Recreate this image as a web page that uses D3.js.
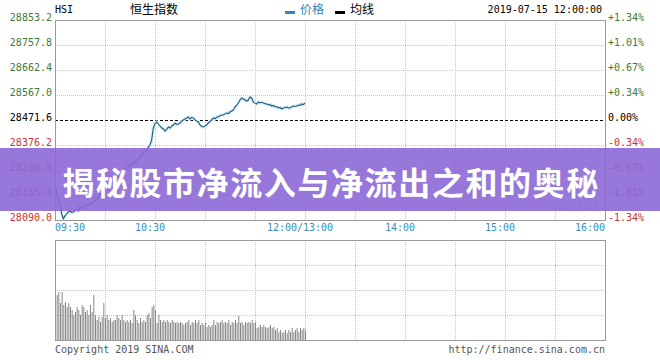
<!DOCTYPE html>
<html>
<head>
<meta charset="utf-8">
<script src="https://cdn.jsdelivr.net/npm/d3@7"></script>
<style>
  body { margin: 0; background: #fff; }
  svg { display: block; }
  text { font-family: "DejaVu Sans Mono", monospace; font-size: 10px; }
</style>
</head>
<body>
<script>
// Data
var prevClose = 28471.6;
var priceTicks = [28853.2, 28757.8, 28662.4, 28567.0, 28471.6, 28376.2, 28280.8, 28185.4, 28090.0];
var pctTicks = ['+1.34%', '+1.01%', '+0.67%', '+0.34%', '0.00%', '-0.34%', '-0.67%', '-1.01%', '-1.34%'];
var timeLabels = [
  {t: 0, label: '09:30'}, {t: 60, label: '10:30'}, {t: 150, label: '12:00/13:00'},
  {t: 210, label: '14:00'}, {t: 270, label: '15:00'}, {t: 330, label: '16:00'}
];
// one value per minute, 09:30 .. 12:00
var prices = [
  28223.6, 28196.9, 28170.0, 28147.2, 28112.9, 28095.0, 28105.5, 28112.9, 28120.5, 28124.3,
  28118.6, 28120.5, 28126.2, 28128.2, 28124.3, 28139.6, 28136.0, 28143.4, 28139.6, 28147.2,
  28145.0, 28154.9, 28150.0, 28158.7, 28162.5, 28166.0, 28178.0, 28189.2, 28192.0, 28204.0,
  28212.1, 28216.0, 28225.0, 28231.2, 28229.0, 28236.0, 28238.8, 28245.0, 28255.0, 28261.7,
  28268.0, 28275.0, 28280.8, 28286.0, 28293.0, 28299.9, 28305.0, 28302.0, 28311.3, 28318.0,
  28325.0, 28330.4, 28337.0, 28345.0, 28349.5, 28356.0, 28368.0, 28376.2, 28395.3, 28441.1,
  28458.0, 28464.0, 28456.3, 28448.7, 28442.0, 28437.3, 28429.6, 28436.0, 28444.9, 28441.0,
  28448.0, 28452.5, 28460.2, 28455.0, 28456.3, 28460.2, 28466.0, 28471.6, 28475.4, 28479.0,
  28483.0, 28475.4, 28481.0, 28479.2, 28472.0, 28467.8, 28464.0, 28452.5, 28447.0, 28444.9,
  28449.0, 28452.5, 28460.2, 28466.0, 28471.6, 28479.2, 28476.0, 28483.0, 28483.0, 28488.0,
  28490.7, 28490.7, 28495.0, 28498.3, 28496.0, 28502.1, 28506.0, 28509.8, 28521.2, 28528.0,
  28536.5, 28547.9, 28555.6, 28551.8, 28548.0, 28544.1, 28547.9, 28559.4, 28555.6, 28540.3,
  28536.0, 28532.7, 28540.3, 28536.5, 28539.0, 28536.5, 28534.0, 28532.7, 28528.8, 28531.0,
  28525.0, 28527.0, 28521.2, 28523.0, 28517.4, 28520.0, 28513.6, 28517.4, 28519.0, 28521.2,
  28518.0, 28517.4, 28522.0, 28525.0, 28523.0, 28525.0, 28528.8, 28527.0, 28532.7, 28530.0,
  28536.5
];
// volume, relative units (100 = top of the volume panel)
var volumes = [
  47, 45, 48, 37, 48, 35, 38, 33, 37, 33, 30, 25, 28, 33, 30, 25, 35, 33, 28, 30,
  25, 35, 28, 45, 25, 20, 23, 18, 23, 37, 22, 25, 20, 22, 18, 20, 20, 25, 22, 20,
  25, 20, 18, 20, 18, 20, 17, 30, 25, 20, 17, 22, 18, 20, 18, 25, 27, 22, 33, 35,
  30, 17, 25, 20, 18, 20, 18, 20, 18, 17, 20, 18, 17, 18, 17, 18, 17, 15,
  17, 18, 20, 15, 18, 17, 20, 17, 20, 15, 17, 15, 17, 13, 15, 13, 15, 20, 15, 18,
  17, 18, 20, 17, 18, 17, 20, 15, 18, 17, 20, 17, 24, 17, 18, 15, 18, 17, 18, 17,
  20, 17, 18, 12, 13, 15, 13, 15, 13, 12, 13, 15, 12, 13, 10, 12, 8, 10, 7, 8,
  10, 7, 10, 8, 12, 8, 10, 12, 8, 12, 10, 12, 10
];

var W = 660, H = 360;
var left = 55, right = 605, pTop = 20, pBottom = 220, vTop = 240, vBottom = 340;

var svg = d3.select('body').append('svg')
  .attr('width', W).attr('height', H);

// trading minutes 0..330 (09:30-12:00, 13:00-16:00)
var xScale = d3.scaleLinear().domain([0, 330]).range([left, right]);
var yScale = d3.scaleLinear().domain([28090.0, 28853.2]).range([pBottom, pTop]);
var vScale = d3.scaleLinear().domain([0, 100]).range([vBottom, vTop]);

var gridColor = '#c4c4c4';
var vGrid = d3.range(30, 330, 30);

// price panel grid
svg.append('g').selectAll('line').data(priceTicks.filter(function(d){ return d !== prevClose && d !== 28853.2 && d !== 28090.0; }))
  .enter().append('line')
  .attr('x1', left).attr('x2', right)
  .attr('y1', function(d){ return Math.round(yScale(d)) + 0.5; })
  .attr('y2', function(d){ return Math.round(yScale(d)) + 0.5; })
  .attr('stroke', gridColor).attr('stroke-dasharray', '1,1');
svg.append('g').selectAll('line').data(vGrid)
  .enter().append('line')
  .attr('x1', function(d){ return Math.round(xScale(d)) + 0.5; })
  .attr('x2', function(d){ return Math.round(xScale(d)) + 0.5; })
  .attr('y1', pTop).attr('y2', pBottom)
  .attr('stroke', gridColor).attr('stroke-dasharray', '1,1');

// volume panel grid
svg.append('g').selectAll('line').data([25, 50, 75])
  .enter().append('line')
  .attr('x1', left).attr('x2', right)
  .attr('y1', function(d){ return vScale(d) + 0.5; })
  .attr('y2', function(d){ return vScale(d) + 0.5; })
  .attr('stroke', gridColor).attr('stroke-dasharray', '1,1');
svg.append('g').selectAll('line').data(vGrid)
  .enter().append('line')
  .attr('x1', function(d){ return Math.round(xScale(d)) + 0.5; })
  .attr('x2', function(d){ return Math.round(xScale(d)) + 0.5; })
  .attr('y1', vTop).attr('y2', vBottom)
  .attr('stroke', gridColor).attr('stroke-dasharray', '1,1');

// volume bars
svg.append('g').selectAll('rect').data(volumes)
  .enter().append('rect')
  .attr('x', function(d, i){ return xScale(i) ; })
  .attr('width', 1)
  .attr('y', function(d){ return vScale(d); })
  .attr('height', function(d){ return vBottom - vScale(d); })
  .attr('fill', '#888');

// previous close dashed line
svg.append('line')
  .attr('x1', left).attr('x2', right)
  .attr('y1', yScale(prevClose) + 0.5).attr('y2', yScale(prevClose) + 0.5)
  .attr('stroke', '#000').attr('stroke-dasharray', '3,2');

// sina watermark (sits under the banner)
svg.append('text')
  .attr('x', 600).attr('y', 211)
  .attr('text-anchor', 'end')
  .style('font-family', 'Liberation Sans, sans-serif')
  .style('font-size', '20px').style('font-weight', 'bold').style('font-style', 'italic')
  .attr('fill', '#e2e2e2')
  .text('sina');

// price line
var line = d3.line()
  .x(function(d, i){ return xScale(i); })
  .y(function(d){ return yScale(d); });
svg.append('path').datum(prices)
  .attr('d', line).attr('fill', 'none')
  .attr('stroke', '#d6f1fa').attr('stroke-width', 3.5).attr('stroke-linejoin', 'round');
svg.append('path').datum(prices)
  .attr('d', line).attr('fill', 'none')
  .attr('stroke', '#2b5878').attr('stroke-width', 1.1);

// panel borders
svg.append('rect').attr('x', left + 0.5).attr('y', pTop + 0.5)
  .attr('width', right - left).attr('height', pBottom - pTop)
  .attr('fill', 'none').attr('stroke', '#9a9a9a');
svg.append('rect').attr('x', left + 0.5).attr('y', vTop + 0.5)
  .attr('width', right - left).attr('height', vBottom - vTop)
  .attr('fill', 'none').attr('stroke', '#9a9a9a');

function tickColor(i) {
  if (i < 4) return '#3b7a3b';
  if (i === 4) return '#000';
  return '#c8333a';
}

// left price labels
svg.append('g').selectAll('text').data(priceTicks)
  .enter().append('text')
  .attr('x', left - 3)
  .attr('y', function(d){ return yScale(d) + 1; })
  .attr('text-anchor', 'end')
  .attr('fill', function(d, i){ return tickColor(i); })
  .text(function(d){ return d.toFixed(1); });

// right percent labels
svg.append('g').selectAll('text').data(pctTicks)
  .enter().append('text')
  .attr('x', right + 3)
  .attr('y', function(d, i){ return yScale(priceTicks[i]) + 1; })
  .attr('fill', function(d, i){ return tickColor(i); })
  .text(function(d){ return d; });

// time labels
svg.append('g').selectAll('text').data(timeLabels)
  .enter().append('text')
  .attr('x', function(d){
    if (d.t === 0) return xScale(d.t);
    if (d.t === 330) return xScale(d.t);
    return xScale(d.t) - 5;
  })
  .attr('y', 231)
  .attr('text-anchor', function(d){
    if (d.t === 0) return 'start';
    if (d.t === 330) return 'end';
    return 'middle';
  })
  .attr('fill', '#3a8fb5')
  .text(function(d){ return d.label; });

// header
svg.append('text').attr('x', 55).attr('y', 13).attr('fill', '#000').text('HSI');
svg.append('text').attr('x', 130).attr('y', 14).attr('fill', '#000')
  .style('font-family', 'Noto Sans CJK SC').style('font-size', '12px').text('恒生指数');
svg.append('rect').attr('x', 285).attr('y', 11).attr('width', 10).attr('height', 3).attr('fill', '#2f86c0');
svg.append('text').attr('x', 300).attr('y', 14).attr('fill', '#2f86c0')
  .style('font-family', 'Noto Sans CJK SC').style('font-size', '12px').text('价格');
svg.append('rect').attr('x', 335).attr('y', 11).attr('width', 10).attr('height', 3).attr('fill', '#000');
svg.append('text').attr('x', 350).attr('y', 14).attr('fill', '#000')
  .style('font-family', 'Noto Sans CJK SC').style('font-size', '12px').text('均线');
svg.append('text').attr('x', 602).attr('y', 13).attr('text-anchor', 'end').attr('fill', '#000')
  .text('2019-07-15 12:00:00');

// footer
svg.append('text').attr('x', 55).attr('y', 353).attr('fill', '#555').text('Copyright 2019 SINA.COM');
svg.append('text').attr('x', 605).attr('y', 353).attr('text-anchor', 'end').attr('fill', '#555')
  .text('http://finance.sina.com.cn');

// title banner
svg.append('rect').attr('x', 0).attr('y', 148).attr('width', W).attr('height', 63)
  .attr('fill', '#8c68d6').attr('fill-opacity', 0.9);
svg.append('text').attr('x', 331).attr('y', 181)
  .attr('text-anchor', 'middle').attr('dominant-baseline', 'central')
  .style('font-family', 'Noto Sans CJK SC').style('font-size', '32px').style('font-weight', 'bold')
  .style('letter-spacing', '1.6px')
  .attr('fill', '#fff')
  .text('揭秘股市净流入与净流出之和的奥秘');
</script>
</body>
</html>
